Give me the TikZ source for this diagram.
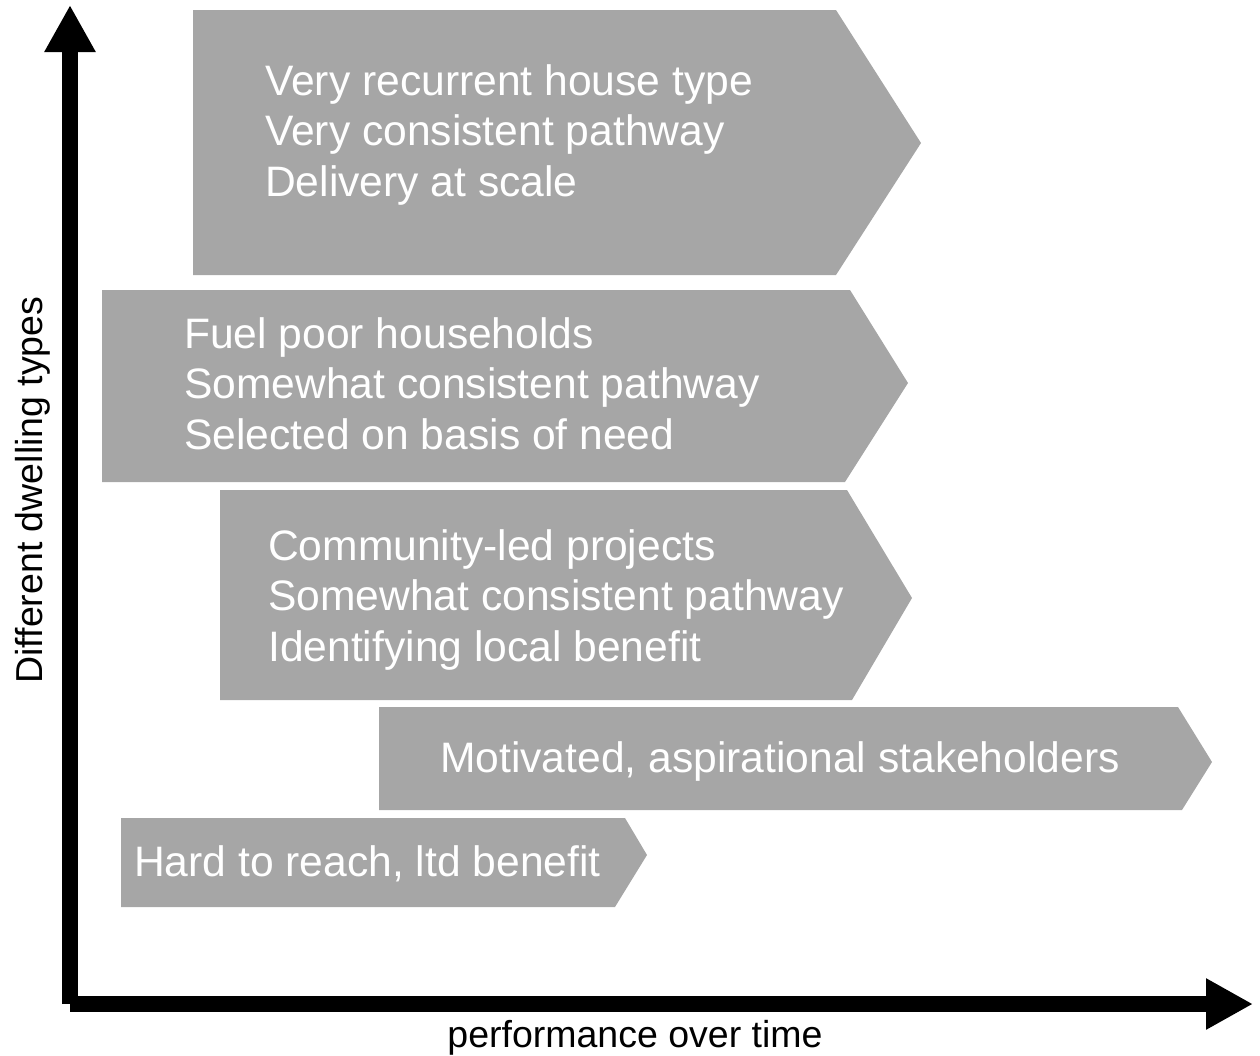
\documentclass[tikz,border=0pt]{standalone}
\usepackage{fontspec}
\setmainfont{Liberation Sans}
\usetikzlibrary{arrows.meta, positioning}
\definecolor{bandgray}{RGB}{166, 166, 166}

\begin{document}
\begin{tikzpicture}[
  x=1pt, y=-1pt,
  band/.style={fill=bandgray, draw=none},
  lbl/.style={anchor=base west, inner sep=0pt, text=white, align=left,
              font=\fontsize{42.6}{50.5}\selectfont},
  axislbl/.style={anchor=base, inner sep=0pt, font=\fontsize{37.5}{44}\selectfont},
  axis/.style={line width=16pt, -{Triangle[length=47pt, width=48pt]}}
]
  \useasboundingbox (0,0) rectangle (1260,1055);

  % bands
  \path[band] (193,10) -- (836,10) -- (921,143) -- (836,275) -- (193,275) -- cycle;
  \path[band] (102,290) -- (850,290) -- (908,383) -- (845,482) -- (102,482) -- cycle;
  \path[band] (220,490) -- (847,490) -- (912,598) -- (852,700) -- (220,700) -- cycle;
  \path[band] (379,707) -- (1178,707) -- (1212,762) -- (1182,810) -- (379,810) -- cycle;
  \path[band] (121,818) -- (625,818) -- (647,855) -- (615,907) -- (121,907) -- cycle;

  % base = baseline of the last line
  \node[lbl] (scale) at (265,196) {Very recurrent house type\\Very consistent pathway\\Delivery at scale};
  \node[lbl] (fuel) at (184,449) {Fuel poor households\\Somewhat consistent pathway\\Selected on basis of need};
  \node[lbl] (community) at (268,661) {Community-led projects\\Somewhat consistent pathway\\Identifying local benefit};
  \node[lbl] (motivated) at (440,772) {Motivated, aspirational stakeholders};
  \node[lbl] (hard) at (134,876) {Hard to reach, ltd benefit};

  % axes
  \coordinate (origin) at (70,1004);
  \coordinate (ytip) at (70,5);
  \coordinate (xtip) at (1253,1004);
  \draw[axis] (origin) -- (ytip);
  \draw[axis] (origin) -- (xtip);
  \node[axislbl, rotate=90] (ylab) at (42,490) {Different dwelling types};
  \node[axislbl] (xlab) at (635,1047) {performance over time};
\end{tikzpicture}
\end{document}
